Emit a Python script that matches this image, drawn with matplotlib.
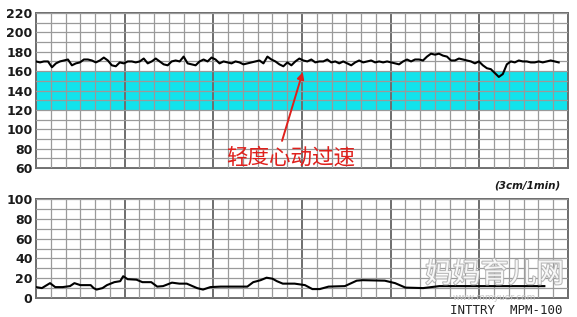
import numpy as np
import matplotlib
matplotlib.use("Agg")
import matplotlib.pyplot as plt
import matplotlib.patheffects as pe
from matplotlib.ticker import MultipleLocator

plt.rcParams['font.family'] = ['DejaVu Sans', 'Noto Sans CJK SC']

# ---- data ----
# fetal heart rate (bpm), sampled every ~2.7 s
fhr = [170, 169, 170, 170, 164, 168, 170, 171, 172, 166, 168, 169, 172, 172, 171, 169,
       171, 174, 171, 166, 165, 169, 168, 170, 170, 169, 170, 173, 168, 170, 173, 170,
       167, 166, 170, 171, 170, 175, 168, 167, 166, 170, 172, 170, 174, 172, 168, 170,
       169, 168, 170, 169, 167, 168, 169, 170, 171, 168, 175, 172, 170, 167, 165, 169,
       166, 170, 173, 171, 170, 172, 169, 170, 170, 172, 169, 170, 168, 170, 168, 166,
       169, 171, 169, 170, 171, 169, 170, 169, 170, 169, 168, 167, 170, 172, 170, 172,
       172, 171, 175, 178, 177, 178, 176, 175, 171, 171, 173, 172, 171, 170, 168, 170,
       166, 163, 162, 158, 154, 157, 167, 170, 169, 171, 170, 170, 169, 169, 170, 169,
       170, 171, 170, 169]
fhr_step = 2.7
fhr_time = np.arange(len(fhr)) * fhr_step

# uterine contraction trace
uc_time = [0, 4, 9.5, 13, 18, 23, 26, 30, 37, 39, 41, 45, 48, 53, 57, 59, 62, 68, 72, 78,
           82, 86, 92, 97, 102, 109, 113, 118, 125, 143, 147, 152, 156, 160, 163, 167, 175,
           182, 187, 192, 198, 209, 217, 221, 236, 243, 250, 262, 273, 294, 314, 328, 344]
uc_vals = [11, 10, 15, 11, 11, 12, 15, 13, 13, 10, 8.5, 10, 13, 16, 17, 22, 19, 18.5, 16, 16,
           11.5, 12, 15.5, 14.5, 14.5, 10, 8.5, 11, 11.5, 11.5, 16, 18, 20.5, 19.5, 17, 14.5,
           14.5, 13, 9, 9, 11.5, 12, 17.5, 18, 17.5, 15, 10.5, 10, 12, 12, 12, 12, 12]

normal_band = (120, 160)
top_ylim = (60, 220)
bot_ylim = (0, 100)
x_total = 360
annot_text = "轻度心动过速"

# ---- style ----
grid_col = '#9a9a9a'
major_col = '#6e6e6e'
cyan = '#12E3EC'
label_col = '#1a1a1a'

fig = plt.figure(figsize=(5.77, 3.17), dpi=100)
ax1 = fig.add_axes([0.0624, 0.470, 0.922, 0.489])
ax2 = fig.add_axes([0.0624, 0.060, 0.922, 0.312])


def style(ax, ylim, ystep_label):
    ax.set_xlim(0, x_total)
    ax.set_ylim(*ylim)
    ax.xaxis.set_major_locator(MultipleLocator(60))
    ax.xaxis.set_minor_locator(MultipleLocator(10))
    ax.yaxis.set_major_locator(MultipleLocator(ystep_label))
    ax.yaxis.set_minor_locator(MultipleLocator(10))
    ax.grid(which='minor', axis='both', color=grid_col, lw=0.9, zorder=1)
    ax.grid(which='major', axis='y', color=grid_col, lw=0.9, zorder=1)
    ax.grid(which='major', axis='x', color=major_col, lw=1.4, zorder=1)
    ax.set_axisbelow(False)
    ax.tick_params(which='both', length=0, labelbottom=False, pad=2.5)
    for lab in ax.get_yticklabels():
        lab.set_fontweight('bold')
        lab.set_fontsize(9)
        lab.set_color(label_col)
    for s in ax.spines.values():
        s.set_color(major_col)
        s.set_linewidth(1.4)


ax1.axhspan(*normal_band, color=cyan, lw=0, zorder=0)
style(ax1, top_ylim, 20)
ax1.plot(fhr_time, fhr, color='black', lw=1.5, zorder=3)

style(ax2, bot_ylim, 20)
ax2.plot(uc_time, uc_vals, color='black', lw=1.5, zorder=3)

# annotation
ax1.annotate('', xy=(180.5, 159), xytext=(166.5, 88),
             arrowprops=dict(arrowstyle='-|>', color='#e0201c', lw=1.4,
                             mutation_scale=10, shrinkA=0, shrinkB=0),
             annotation_clip=False, zorder=5)
ax1.text(172.5, 70.5, annot_text, color='#e0201c', fontsize=15.5,
         family=['Noto Sans CJK SC', 'DejaVu Sans'], ha='center', va='center', zorder=5)

fig.text(0.972, 0.416, '(3cm/1min)', fontsize=7.5, fontweight='bold', style='italic',
         ha='right', va='center', color=label_col)
fig.text(0.975, 0.020, 'INTTRY  MPM-100', fontsize=9, ha='right', va='center',
         color='#222222', family='DejaVu Sans Mono')

# watermark
wm = fig.text(0.857, 0.135, '妈妈育儿网', fontsize=20, ha='center', va='center',
              family=['Noto Sans CJK SC'], color='white', alpha=0.9, zorder=10)
wm.set_path_effects([pe.withStroke(linewidth=1.5, foreground='#b0b0b0')])
fig.text(0.857, 0.063, 'www.mmyuer.com', fontsize=6.5, ha='center', va='center',
         color='#c8c8c8', zorder=10)

fig.savefig('out.png', dpi=100)
